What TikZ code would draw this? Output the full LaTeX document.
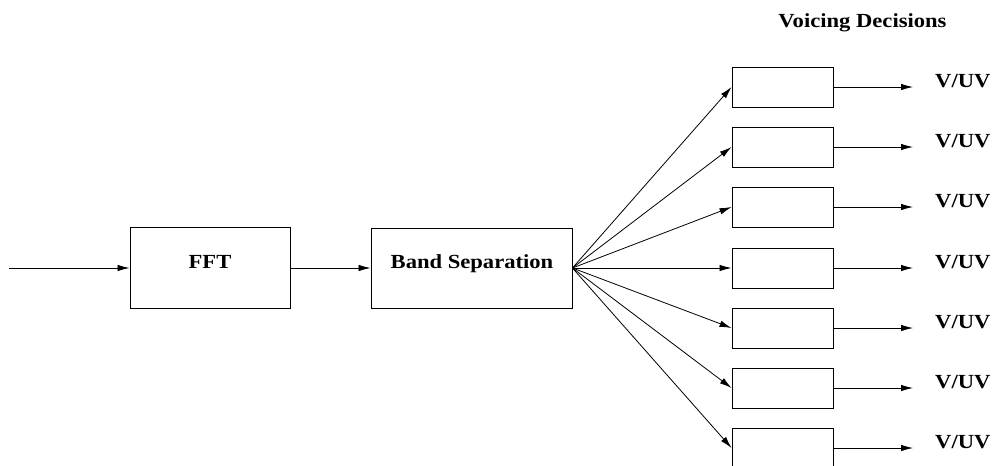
\documentclass[tikz,border=0pt]{standalone}
\usepackage{fontspec}
\setmainfont[FakeStretch=1.13]{Liberation Serif}
\usetikzlibrary{arrows.meta}
\begin{document}
\begin{tikzpicture}[x=1pt,y=-1pt,
  blockbox/.style={draw, line width=0.9pt, inner sep=0pt},
  lbl/.style={font=\fontsize{20}{24}\selectfont\bfseries, inner sep=0pt},
  arr/.style={-{Latex[length=12pt,width=6.5pt]}, line width=0.8pt}]
  \useasboundingbox (0,0) rectangle (994,466);

  % main chain
  \coordinate (in) at (9,268);
  \node[blockbox, minimum width=160pt, minimum height=81pt] (fft) at (210,268) {};
  \node[lbl, anchor=base] (fftt) at (210,268) {FFT};
  \node[blockbox, minimum width=201pt, minimum height=80pt] (band) at (471.5,268) {};
  \node[lbl, anchor=base] (bandt) at (472,268) {Band Separation};

  \draw[arr] (in) -- (fft.west);
  \draw[arr] (fft.east) -- (band.west);

  % heading over the decision column
  \node[lbl, anchor=base] (head) at (862.5,27) {Voicing Decisions};

  % one decision block per band
  \foreach \i/\yy in {1/87,2/147,3/207,4/268,5/328,6/388,7/448}{
    \node[blockbox, minimum width=101pt, minimum height=40pt] (v\i) at (782.5,\yy) {};
    \coordinate (o\i) at (913,\yy);
    \node[lbl, anchor=base west] (t\i) at (935,\yy) {V/UV};
    \draw[arr] (band.east) -- (v\i.west);
    \draw[arr] (v\i.east) -- (o\i);
  }
\end{tikzpicture}
\end{document}
